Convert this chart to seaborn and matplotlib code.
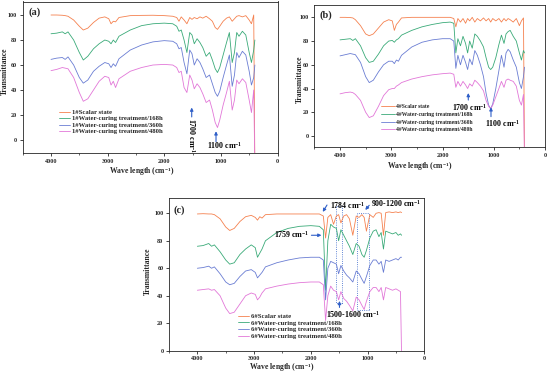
import numpy as np
import pandas as pd
import seaborn as sns
import matplotlib.pyplot as plt
from matplotlib.ticker import MultipleLocator
from matplotlib.patches import Rectangle

# wavenumber grid (cm-1) shared by all spectra
wn = [4000, 3900, 3800, 3750, 3700, 3600, 3500, 3430, 3350, 3250,
      3150, 3050, 2980, 2940, 2900, 2860, 2800, 2600, 2400, 2200,
      2000, 1850, 1780, 1740, 1700, 1650, 1600, 1550, 1510, 1470,
      1420, 1370, 1320, 1260, 1200, 1150, 1100, 1060, 1020, 960,
      900, 850, 800, 760, 720, 680, 620, 560, 500, 460, 420, 400]

# panel (a) 1#
a_scalar = [100, 100, 99.8, 99.5, 99, 96, 91, 88, 89.5, 94,
            97.5, 98.5, 97, 93, 95, 94.5, 98, 99.5, 99.7, 99.8,
            99.5, 99, 98, 95, 98.5, 96, 93, 98, 96.5, 98,
            97, 98.5, 97.5, 99, 97, 95, 90, 88.5, 91, 95,
            97.5, 98.5, 95, 97, 99, 99.5, 98.5, 99.5, 96, 93, 100, -20]
a_168 = [85, 85.5, 86.5, 85, 86.5, 80, 70, 64, 67, 73,
         77, 80, 79, 77, 80, 78, 83, 88, 91.5, 93,
         93.5, 93, 91, 87, 88, 80, 70, 86, 84, 77,
         81, 78, 74, 67, 70, 64, 57, 54, 58, 68,
         78, 86, 62, 70, 86, 83, 87, 84, 70, 62, 72, 80]
a_360 = [64.5, 65.5, 66, 64.5, 66.5, 60, 50, 45.5, 48, 55,
         59, 62, 61, 58, 61, 59, 65, 72, 76, 78.5,
         79.5, 79, 77, 73, 74, 62, 53, 72, 69, 60,
         65, 62, 57, 50, 52, 45, 38, 35, 39, 50,
         60, 68, 43, 52, 70, 66, 71, 68, 55, 44, 50, 60]
a_480 = [55.5, 56.5, 58, 57.5, 57, 50, 38, 31, 33, 40,
         47, 51, 50, 44, 47, 42, 49, 55, 58, 60,
         60.5, 60, 58, 54, 55, 42, 38, 52, 48, 41,
         45, 42, 37, 30, 32, 24, 14, 10, 16, 28,
         38, 47, 24, 32, 48, 45, 49, 46, 32, 22, 40, -20]

# panel (b) 4#
b_scalar = [100, 100, 99.8, 99.5, 98, 93, 86, 84.5, 86, 91,
            96, 98, 97, 89, 94, 96, 99.5, 100, 100, 100,
            100, 100, 99, 92, 99, 96, 99, 95, 99, 97,
            100, 96, 99, 97, 99.5, 97, 99, 96, 99, 97,
            99, 96, 99, 97, 99, 98, 96, 99, 93, 97, 99.5, -20]
b_168 = [81, 81.5, 82, 80.5, 82, 76, 66, 62, 63, 69,
         76, 80, 80.5, 79, 81, 82, 85, 89, 92, 94,
         95.5, 96, 95, 70, 82, 76, 84, 78, 70, 80,
         74, 86, 84, 80, 75, 66, 58, 56, 58, 66,
         77, 85, 78, 86, 88, 89, 84, 80, 70, 64, 72, 70]
b_360 = [67.5, 68.5, 69.5, 69, 68.5, 62, 50, 45, 47, 54,
         60, 63, 63, 61, 64, 63, 68, 75, 79, 81,
         82, 82, 80, 57, 68, 60, 68, 62, 56, 65,
         60, 72, 68, 60, 50, 36, 26, 23, 27, 40,
         55, 68, 58, 70, 73, 71, 64, 58, 45, 40, 50, 58]
b_480 = [35.5, 36.5, 37, 36.5, 35, 30, 20, 15.5, 17, 25,
         34, 39, 40, 40, 42, 43, 45, 48, 50, 51.5,
         52.5, 53, 52, 41, 46, 42, 46, 43, 40, 44,
         42, 47, 45, 42, 38, 30, 25, 23, 26, 33,
         40, 46, 41, 47, 48, 47, 46, 42, 30, 26, 35, -20]

# panel (c) 6#
c_scalar = [99.5, 99.7, 99.5, 99.5, 99, 96, 90, 87.5, 89, 94,
            97.5, 98.5, 97, 95, 97.5, 96.5, 99, 99.5, 99.5, 99.5,
            99.5, 99.5, 98, 82, 97, 99, 92, 98, 99, 93,
            98, 99, 96, 84, 98, 97, 99, 97, 87, 99,
            97, 100, 100.5, 100, 84, 100.5, 101, 100.5, 101, 100.5, 101, 100.5]
c_168 = [76, 76.5, 78, 76, 77, 72, 66, 63, 64, 70,
         74, 77, 75, 68, 71, 74, 80, 86, 89, 90.5,
         91, 90.5, 88, 44, 80, 92, 90, 89, 80, 88,
         84, 80, 76, 70, 78, 76, 70, 68, 73, 82,
         87, 88, 83, 86, 74, 87, 86, 85, 86, 84, 85, 84]
c_360 = [60, 60.5, 61.5, 60, 61, 56, 50, 48, 49, 54,
         58, 59, 57, 53, 55, 57, 61, 64, 66, 67.5,
         68, 68, 66, 37, 60, 65, 64, 63, 56, 62,
         58, 55, 53, 50, 58, 56, 52, 49, 54, 62,
         66, 66, 63, 65, 57, 66, 65, 66, 67, 66, 68, 68]
c_480 = [44, 44.5, 45, 44, 44.5, 40, 31, 27, 28, 34,
         40, 42, 41, 37, 39, 42, 45, 47, 48.5, 49.5,
         50, 50, 48, 22, 40, 47, 44, 43, 37, 43,
         38, 36, 33, 29, 39, 37, 33, 30, 36, 43,
         46, 46, 43, 46, 37, 46, 45, 44, 45, 44, 43, -5]

states = ['Scalar state', 'Water-curing treatment/168h',
          'Water-curing treatment/360h', 'Water-curing treatment/480h']
colors = ['#f5814f', '#3aaa78', '#6a7dd3', '#e277d8']
arrow_col = '#2f5fc8'

sns.set_style('ticks')
plt.rcParams['font.family'] = ['Liberation Serif', 'DejaVu Serif']
plt.rcParams['font.weight'] = 'bold'
plt.rcParams['mathtext.fontset'] = 'custom'
plt.rcParams['mathtext.default'] = 'bf'
plt.rcParams['mathtext.bf'] = 'Liberation Serif:bold'
plt.rcParams['mathtext.rm'] = 'Liberation Serif:bold'
plt.rcParams['axes.linewidth'] = 0.6

fig = plt.figure(figsize=(5.5, 3.78), dpi=100)


def rect(l, t, r, b):
    return [l / 550, 1 - b / 378, (r - l) / 550, (b - t) / 378]


panels = [
    ('(a)', '1#', [a_scalar, a_168, a_360, a_480], rect(22.7, 1.5, 277.5, 153.3), (-10.6, 110.8)),
    ('(b)', '4#', [b_scalar, b_168, b_360, b_480], rect(314.4, 5, 545, 147), (-9.3, 110.4)),
    ('(c)', '6#', [c_scalar, c_168, c_360, c_480], rect(169, 198.3, 424.3, 350.7), (0, 110.9)),
]
leg_cfg = {
    '(a)': dict(anchor=(0.142, 0.29), fs=4.8, spacing=0.12, hl=1.6),
    '(b)': dict(anchor=(0.289, 0.30), fs=4.1, spacing=0.45, hl=2.4),
    '(c)': dict(anchor=(0.27, 0.245), fs=4.8, spacing=0.15, hl=1.7),
}
panel_pos = {'(a)': (0.021, 0.931), '(b)': (0.024, 0.925), '(c)': (0.016, 0.919)}
xlab_pos = {'(a)': (0.466, -0.12), '(b)': (0.458, -0.134), '(c)': (0.443, -0.112)}
ylab_pos = {'(a)': (-0.069, 0.539), '(b)': (-0.062, 0.479), '(c)': (-0.081, 0.52)}

axes = {}
for tag, prefix, series, box, ylim in panels:
    ax = fig.add_axes(box)
    axes[tag] = ax
    for vals, col, st in zip(series, colors, states):
        sns.lineplot(x=wn, y=vals, ax=ax, color=col, lw=0.6, label=prefix + st,
                     estimator=None, sort=False)
    ax.set_xlim(4500, 0)
    ax.set_ylim(*ylim)
    ax.set_xticks([4000, 3000, 2000, 1000, 0])
    ax.xaxis.set_minor_locator(MultipleLocator(500))
    ax.set_yticks([0, 20, 40, 60, 80, 100])
    ax.tick_params(which='major', length=2, width=0.6, pad=2, labelsize=4.4)
    ax.tick_params(which='minor', length=1.2, width=0.5)
    for lab in ax.get_xticklabels() + ax.get_yticklabels():
        lab.set_fontweight('bold')
    ax.set_xlabel('Wave length (cm$^{-1}$)', fontsize=5.5, fontweight='bold')
    ax.set_ylabel('Transmittance', fontsize=5.5, fontweight='bold')
    ax.xaxis.set_label_coords(*xlab_pos[tag])
    ax.yaxis.set_label_coords(*ylab_pos[tag])
    ax.yaxis.label.set_va('center')
    ax.xaxis.label.set_va('center')
    cfg = leg_cfg[tag]
    ax.legend(loc='upper left', bbox_to_anchor=cfg['anchor'], frameon=False,
              labelspacing=cfg['spacing'], handlelength=cfg['hl'],
              handletextpad=0.3, borderpad=0, borderaxespad=0,
              prop={'weight': 'bold', 'size': cfg['fs']})
    px, py = panel_pos[tag]
    ax.text(px, py, tag, transform=ax.transAxes, fontsize=7.4, fontweight='bold',
            ha='left', va='center')

ann = dict(fontsize=5.7, fontweight='bold', color='black')
arr = dict(arrowstyle='-|>', color=arrow_col, lw=0.8, mutation_scale=4.5, shrinkA=0, shrinkB=0)

# panel (a) annotations
ax = axes['(a)']
ax.annotate('', xy=(1515, 26), xytext=(1515, 18.5), arrowprops=arr)
ax.text(1515, 18, '1700 cm$^{-1}$', rotation=-90, ha='center', va='top', clip_on=False, **ann)
ax.annotate('', xy=(1086, 7), xytext=(1086, -1.3), arrowprops=arr)
ax.text(927, -4.5, '1100 cm$^{-1}$', ha='center', va='center', **ann)

# panel (b) annotations
ax = axes['(b)']
ax.annotate('', xy=(1497, 36.2), xytext=(1497, 30.3), arrowprops=arr)
ax.text(1469, 24.2, '1700 cm$^{-1}$', ha='center', va='center', **ann)
ax.annotate('', xy=(1054, 24.2), xytext=(1054, 16.3), arrowprops=arr)
ax.text(829, 10.1, '1100 cm$^{-1}$', ha='center', va='center', **ann)

# panel (c) annotations
ax = axes['(c)']
ax.text(1670, 106, '1784 cm$^{-1}$', ha='left', va='center', **ann)
ax.annotate('', xy=(1790, 101), xytext=(1715, 106), arrowprops=arr)
ax.text(940, 107, '900-1200 cm$^{-1}$', ha='left', va='center', clip_on=False, **ann)
ax.annotate('', xy=(1040, 102.4), xytext=(971, 105.8), arrowprops=arr)
ax.text(2019, 84.2, '1759 cm$^{-1}$', ha='right', va='center', **ann)
ax.annotate('', xy=(1813, 84), xytext=(1990, 84), arrowprops=arr)
ax.text(1266, 26, '1500-1600 cm$^{-1}$', ha='center', va='center', **ann)
ax.annotate('', xy=(1495, 36.2), xytext=(1495, 31.5), arrowprops=arr)
ax.add_patch(Rectangle((1447, 34.5), 105, 70.8, fill=False, ec=arrow_col, lw=0.6, ls=':'))
ax.add_patch(Rectangle((970, 29.6), 215, 70.4, fill=False, ec=arrow_col, lw=0.6, ls=':'))

fig.savefig('out.png', dpi=100)
